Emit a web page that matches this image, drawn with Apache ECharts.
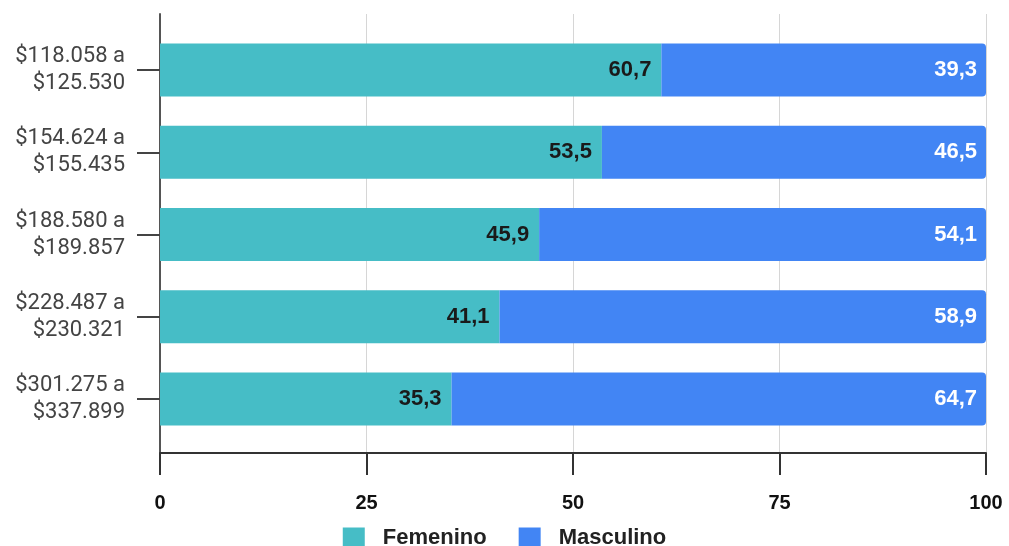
<!DOCTYPE html>
<html>
<head>
<meta charset="utf-8">
<script src="https://cdn.jsdelivr.net/npm/echarts@6/dist/echarts.min.js"></script>
<style>
  html, body { margin: 0; padding: 0; background: #fff; }
  #chart { width: 1009px; height: 546px; }
</style>
</head>
<body>
<div id="chart"></div>
<script>
// Salary brackets (ARS) and share of each gender, in percent
const categories = [
  '$118.058 a\n$125.530',
  '$154.624 a\n$155.435',
  '$188.580 a\n$189.857',
  '$228.487 a\n$230.321',
  '$301.275 a\n$337.899'
];
const femenino = [60.7, 53.5, 45.9, 41.1, 35.3];
const masculino = [39.3, 46.5, 54.1, 58.9, 64.7];
const xTicks = [0, 25, 50, 75, 100];

const fmt = v => v.toFixed(1).replace('.', ',');
const numFont = '"Liberation Sans", Arial, sans-serif';

const chart = echarts.init(document.getElementById('chart'), null, { renderer: 'canvas' });

chart.setOption({
  animation: false,
  backgroundColor: '#ffffff',
  legend: {
    left: 'center',
    top: 522,
    itemWidth: 22,
    itemHeight: 21,
    itemGap: 32,
    icon: 'rect',
    textStyle: { fontFamily: numFont, fontSize: 22, fontWeight: 'bold', color: '#222', padding: [0, 0, 0, 13] },
    data: ['Femenino', 'Masculino']
  },
  grid: [
    // frame: value axis, gridlines and vertical axis line
    { left: 160, right: 23, top: 14, bottom: 93 },
    // bars
    { left: 160, right: 23, top: 29, bottom: 106 }
  ],
  xAxis: [
    {
      gridIndex: 0,
      type: 'value',
      min: xTicks[0],
      max: xTicks[xTicks.length - 1],
      interval: 25,
      axisLine: { show: true, lineStyle: { color: '#333', width: 2 } },
      axisTick: { show: true, length: 22, lineStyle: { color: '#333', width: 2 } },
      splitLine: { show: true, lineStyle: { color: '#d6d6d6', width: 1 } },
      axisLabel: {
        margin: 40,
        fontFamily: numFont,
        fontSize: 20,
        fontWeight: 'bold',
        color: '#111',
        formatter: v => String(v)
      }
    },
    {
      gridIndex: 1,
      type: 'value',
      min: 0,
      max: 100,
      show: false
    }
  ],
  yAxis: [
    {
      gridIndex: 0,
      type: 'value',
      axisLine: { show: true, lineStyle: { color: '#555', width: 2 } },
      axisTick: { show: false },
      axisLabel: { show: false },
      splitLine: { show: false }
    },
    {
      gridIndex: 1,
      type: 'category',
      inverse: true,
      data: categories,
      axisLine: { show: false },
      axisTick: { show: true, alignWithLabel: true, length: 23, lineStyle: { color: '#444', width: 2 } },
      axisLabel: {
        margin: 35,
        fontFamily: 'Roboto, sans-serif',
        fontSize: 22,
        lineHeight: 27,
        color: '#444',
        align: 'right'
      }
    }
  ],
  series: [
    {
      name: 'Femenino',
      type: 'bar',
      stack: 'total',
      xAxisIndex: 1,
      yAxisIndex: 1,
      barWidth: 53,
      data: femenino,
      itemStyle: { color: '#46BDC6' },
      label: {
        show: true,
        position: 'insideRight',
        distance: 10,
        formatter: p => fmt(p.value),
        fontFamily: numFont,
        fontSize: 22,
        fontWeight: 'bold',
        color: '#1a1a1a'
      }
    },
    {
      name: 'Masculino',
      type: 'bar',
      stack: 'total',
      xAxisIndex: 1,
      yAxisIndex: 1,
      barWidth: 53,
      data: masculino,
      itemStyle: { color: '#4285F4', borderRadius: [0, 4, 4, 0] },
      label: {
        show: true,
        position: 'insideRight',
        distance: 9,
        formatter: p => fmt(p.value),
        fontFamily: numFont,
        fontSize: 22,
        fontWeight: 'bold',
        color: '#ffffff'
      }
    }
  ]
});
</script>
</body>
</html>
